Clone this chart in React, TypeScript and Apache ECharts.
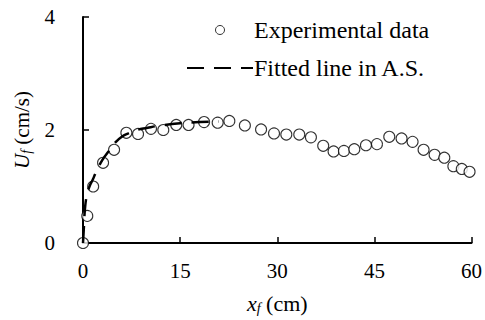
import React, { useEffect, useRef } from "react";
import * as echarts from "echarts";

const expX = [0, 0.66, 1.57, 3.1, 4.8, 6.7, 8.5, 10.5, 12.4, 14.4, 16.3, 18.7, 20.8, 22.6, 25.0, 27.5, 29.5, 31.4, 33.4, 35.2, 37.1, 38.7, 40.3, 41.9, 43.7, 45.4, 47.3, 49.2, 50.9, 52.6, 54.3, 55.8, 57.2, 58.5, 59.7];
const expY = [0, 0.48, 1.0, 1.42, 1.65, 1.95, 1.93, 2.02, 2.0, 2.09, 2.09, 2.14, 2.13, 2.16, 2.08, 2.01, 1.94, 1.92, 1.92, 1.87, 1.72, 1.62, 1.63, 1.66, 1.73, 1.75, 1.88, 1.85, 1.79, 1.65, 1.56, 1.51, 1.36, 1.31, 1.26];

const fitX = [0, 0.15, 0.3, 0.6, 1, 1.5, 2, 3, 4, 5, 6, 7, 8, 10, 12, 15, 18, 21];
const fitY = [0, 0.3, 0.6, 0.85, 1.0, 1.12, 1.25, 1.47, 1.63, 1.78, 1.88, 1.94, 1.99, 2.04, 2.08, 2.12, 2.14, 2.15];

const xTicks = { min: 0, max: 60, interval: 15 };
const yTicks = { min: 0, max: 4, interval: 2 };

const FONT = "Liberation Serif";

export default function App() {
  const ref = useRef<HTMLDivElement>(null);
  useEffect(() => {
    const chart = echarts.init(ref.current!, null, { renderer: "svg" });
    chart.setOption({
      animation: false,
      backgroundColor: "#fff",
      textStyle: { fontFamily: FONT, color: "#000" },
      grid: { left: 83, right: 9, top: 17, bottom: 77 },
      legend: {
        orient: "vertical",
        left: 181,
        top: 13,
        itemWidth: 66,
        itemHeight: 9,
        itemGap: 14,
        textStyle: { fontFamily: FONT, fontSize: 24, color: "#000", padding: [0, 0, 0, -4] },
        data: [
          { name: "Experimental data", itemStyle: { color: "#fff", borderColor: "#000", borderWidth: 1 } },
          { name: "Fitted line in A.S.", itemStyle: { opacity: 0 } },
        ],
      },
      xAxis: {
        type: "value",
        ...xTicks,
        name: "{i|x}{s|f} (cm)",
        nameLocation: "middle",
        nameGap: 49,
        nameTextStyle: {
          fontFamily: FONT,
          fontSize: 22,
          color: "#000",
          rich: {
            i: { fontFamily: FONT, fontSize: 22, fontStyle: "italic", color: "#000" },
            s: { fontFamily: FONT, fontSize: 14, fontStyle: "italic", color: "#000", verticalAlign: "bottom", padding: [9, 0, 0, 0] },
          },
        },
        axisLine: { lineStyle: { color: "#000", width: 2 } },
        axisTick: { inside: true, length: 6, lineStyle: { color: "#000", width: 1.5 } },
        axisLabel: { fontFamily: FONT, fontSize: 21, color: "#000", margin: 17 },
        splitLine: { show: false },
      },
      yAxis: {
        type: "value",
        ...yTicks,
        name: "{i|U}{s|f} (cm/s)",
        nameLocation: "middle",
        nameGap: 48,
        nameRotate: 90,
        nameTextStyle: {
          fontFamily: FONT,
          fontSize: 21,
          color: "#000",
          rich: {
            i: { fontFamily: FONT, fontSize: 21, fontStyle: "italic", color: "#000" },
            s: { fontFamily: FONT, fontSize: 14, fontStyle: "italic", color: "#000", verticalAlign: "bottom", padding: [9, 0, 0, 0] },
          },
        },
        axisLine: { show: true, lineStyle: { color: "#000", width: 2 } },
        axisTick: { show: true, inside: true, length: 6, lineStyle: { color: "#000", width: 1.5 } },
        axisLabel: { fontFamily: FONT, fontSize: 21, color: "#000", margin: 28 },
        splitLine: { show: false },
      },
      series: [
        {
          name: "Experimental data",
          type: "scatter",
          symbol: "circle",
          symbolSize: 11,
          itemStyle: { color: "#fff", borderColor: "#000", borderWidth: 1.1 },
          data: expX.map((x, i) => [x, expY[i]]),
          z: 2,
        },
        {
          name: "Fitted line in A.S.",
          type: "line",
          symbol: "none",
          smooth: true,
          lineStyle: { color: "#000", width: 2.5, type: [17, 10] },
          itemStyle: { color: "#000" },
          data: fitX.map((x, i) => [x, fitY[i]]),
          z: 3,
        },
      ],
    });
    return () => chart.dispose();
  }, []);
  return <div ref={ref} style={{ width: 485, height: 320, position: "absolute", left: 0, top: 0 }} />;
}
